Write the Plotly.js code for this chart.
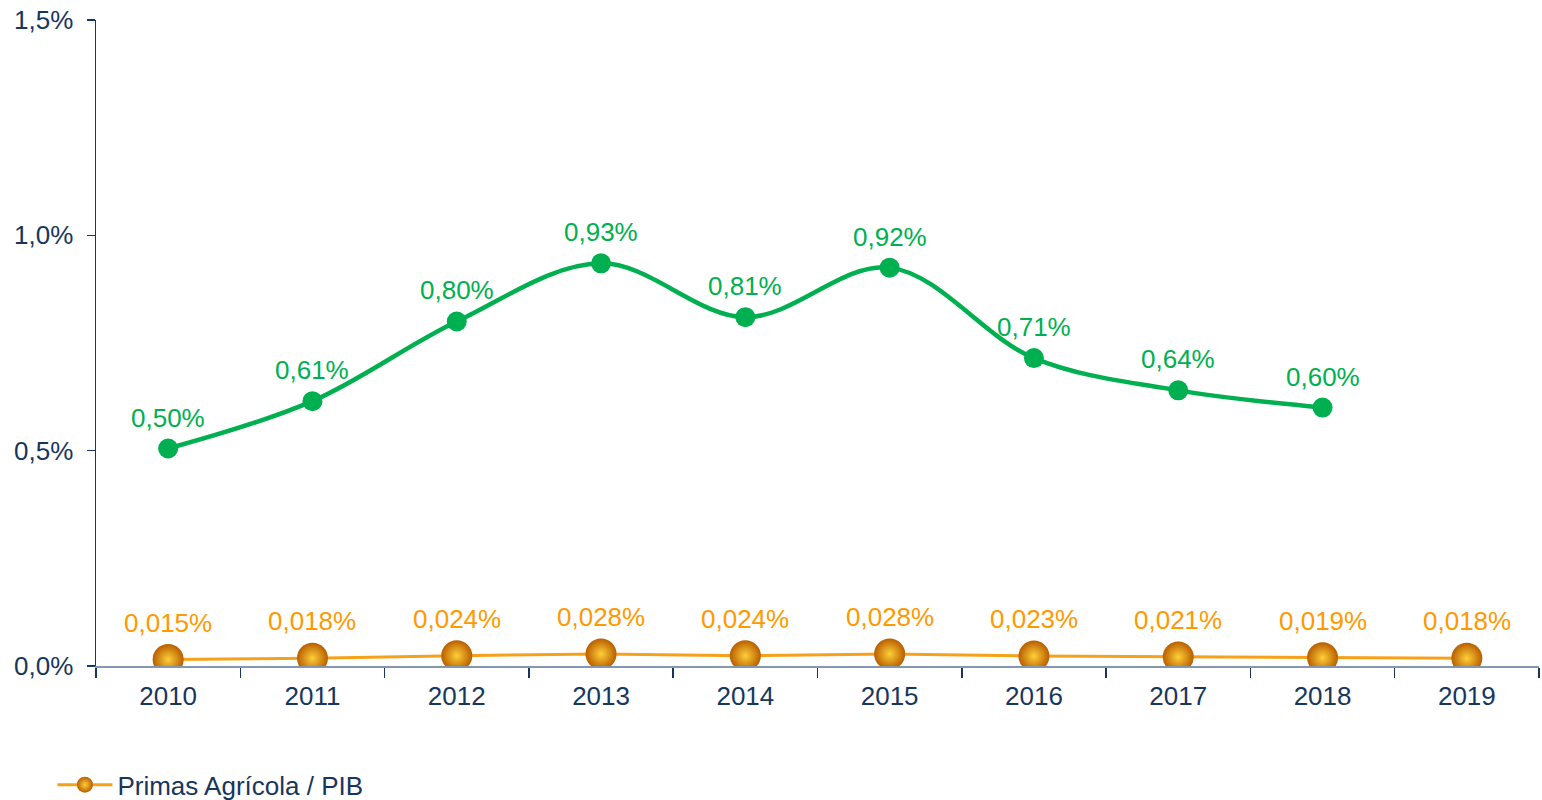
<!DOCTYPE html>
<html>
<head>
<meta charset="utf-8">
<script src="https://cdn.plot.ly/plotly-3.0.1.min.js"></script>
<style>html,body{margin:0;padding:0;background:#fff;overflow:hidden;}#chart{width:1542px;height:800px;}</style>
</head>
<body>
<div id="chart"></div>
<script>
var years = ['2010','2011','2012','2013','2014','2015','2016','2017','2018','2019'];
var greenYears = ['2010','2011','2012','2013','2014','2015','2016','2017','2018'];
var greenValues = [0.505, 0.615, 0.80, 0.935, 0.81, 0.925, 0.715, 0.64, 0.60];
var greenLabels = ['0,50%','0,61%','0,80%','0,93%','0,81%','0,92%','0,71%','0,64%','0,60%'];
var orangeValues = [0.015, 0.018, 0.024, 0.028, 0.024, 0.028, 0.023, 0.021, 0.019, 0.018];
var orangeLabels = ['0,015%','0,018%','0,024%','0,028%','0,024%','0,028%','0,023%','0,021%','0,019%','0,018%'];
var yTickVals = [0, 0.5, 1.0, 1.5];
var yTickText = ['0,0%','0,5%','1,0%','1,5%'];
var seriesName = 'Primas Agrícola / PIB';

var navy = '#17365D';
var green = '#00B050';
var orange = '#FF9900';
var fontFam = 'Liberation Sans, Arial, sans-serif';

var traces = [
  {
    x: greenYears, y: greenValues, type: 'scatter', mode: 'lines+markers',
    line: {color: green, width: 4.5, shape: 'spline', smoothing: 1},
    marker: {color: green, size: 20},
    showlegend: false, hoverinfo: 'skip'
  },
  {
    x: years, y: orangeValues, type: 'scatter', mode: 'lines+markers',
    name: seriesName,
    line: {color: '#F7A11A', width: 3},
    marker: {color: '#B85E00', size: 31, gradient: {type: 'radial', color: '#FFCF38'}, line: {width: 0}},
    hoverinfo: 'skip'
  }
];

var annotations = [];
greenYears.forEach(function (yr, i) {
  annotations.push({x: years.indexOf(yr), y: greenValues[i], xref: 'x', yref: 'y', text: greenLabels[i],
    showarrow: false, yshift: 31, font: {family: fontFam, size: 26, color: green}});
});
years.forEach(function (yr, i) {
  annotations.push({x: i, y: orangeValues[i], xref: 'x', yref: 'y', text: orangeLabels[i],
    showarrow: false, yshift: 37, font: {family: fontFam, size: 26, color: orange}});
});

var layout = {
  width: 1542, height: 800,
  margin: {l: 96, r: 3, t: 20, b: 134, autoexpand: false},
  paper_bgcolor: '#fff', plot_bgcolor: '#fff',
  font: {family: fontFam, color: navy, size: 26},
  xaxis: {
    type: 'category', categoryorder: 'array', categoryarray: years,
    showgrid: false, zeroline: false,
    showline: true, linecolor: '#8497B0', linewidth: 1.5,
    ticks: 'outside', tickson: 'boundaries', ticklen: 10, tickcolor: navy, tickwidth: 1.5,
    tickfont: {family: fontFam, size: 26, color: navy},
    ticklabelstandoff: 6,
    range: [-0.5, 9.5], fixedrange: true
  },
  yaxis: {
    range: [0, 1.5], showgrid: false, zeroline: false,
    showline: true, linecolor: navy, linewidth: 1.5,
    ticks: 'outside', ticklen: 8, tickcolor: navy, tickwidth: 1.5,
    tickvals: yTickVals, ticktext: yTickText,
    tickfont: {family: fontFam, size: 26, color: navy},
    ticklabelstandoff: 8, fixedrange: true
  },
  showlegend: true,
  legend: {
    xref: 'container', yref: 'container',
    x: 0.034, xanchor: 'left', y: 0.019, yanchor: 'middle',
    itemwidth: 55,
    font: {family: fontFam, size: 26, color: navy},
    bgcolor: 'rgba(0,0,0,0)'
  },
  annotations: annotations
};

Plotly.newPlot('chart', traces, layout, {displayModeBar: false, staticPlot: true});
</script>
</body>
</html>
